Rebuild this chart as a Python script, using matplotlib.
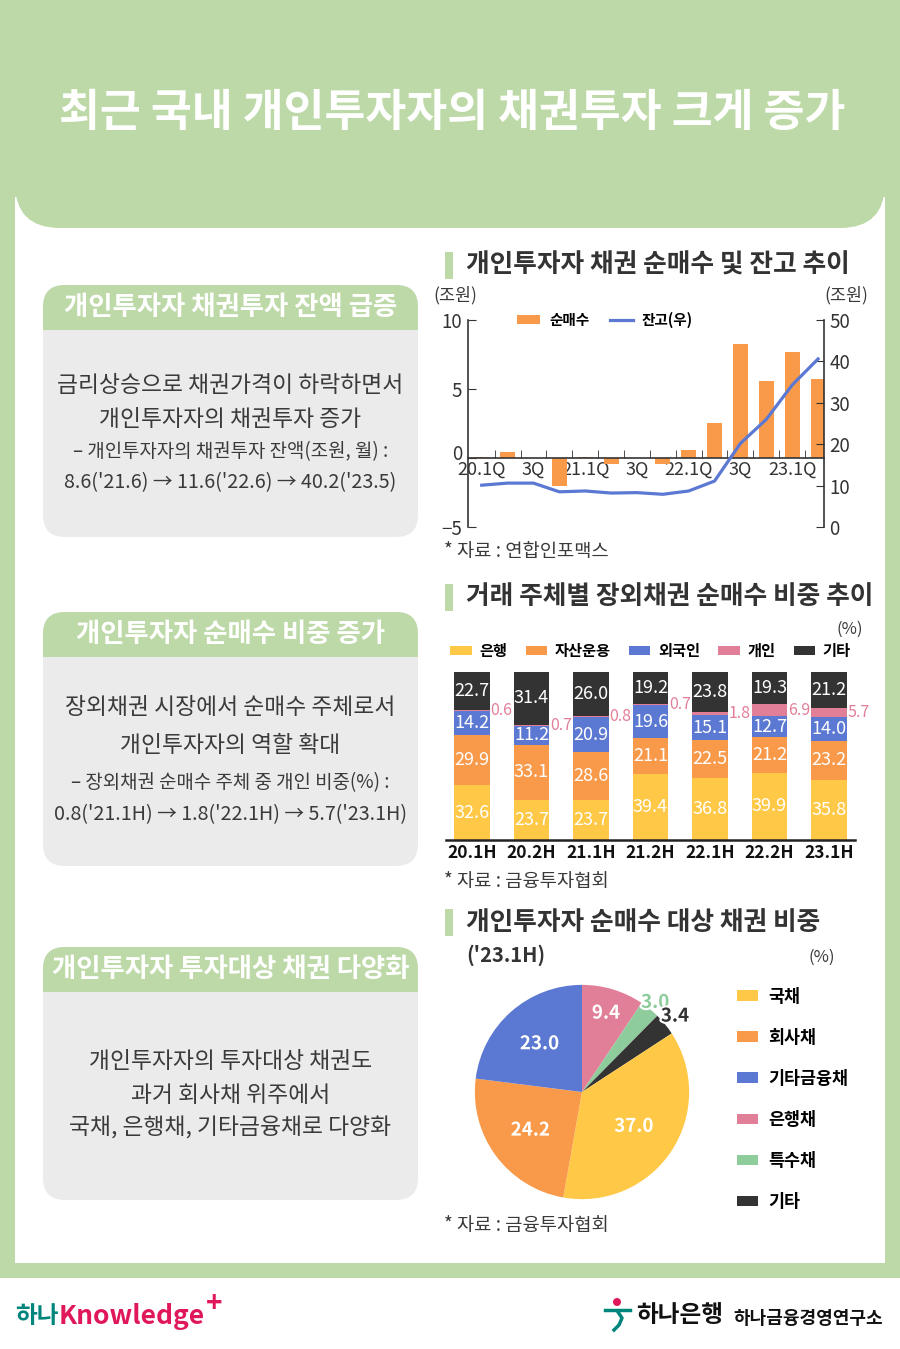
import numpy as np
import matplotlib
matplotlib.use('Agg')
import matplotlib.pyplot as plt
from matplotlib.patches import Rectangle, FancyBboxPatch, Circle
import matplotlib.patheffects as pe
import matplotlib.transforms as mtransforms

plt.rcParams['font.family'] = ['Noto Sans CJK KR', 'DejaVu Sans']

# chart 1 : quarterly net buying (left axis) and balance (right axis), 조원
quarters = ['20.1Q', '20.2Q', '20.3Q', '20.4Q', '21.1Q', '21.2Q', '21.3Q',
            '21.4Q', '22.1Q', '22.2Q', '22.3Q', '22.4Q', '23.1Q', '23.2Q']
quarter_ticks = ['20.1Q', '', '3Q', '', '21.1Q', '', '3Q', '',
                 '22.1Q', '', '3Q', '', '23.1Q', '']
net_buy = [0.1, 0.4, 0.0, -2.0, 0.1, -0.45, 0.0, -0.4, 0.6, 2.5, 8.25, 5.6, 7.7, 5.7]
balance = [10.1, 10.6, 10.6, 8.5, 8.7, 8.2, 8.3, 7.9, 8.7, 11.1, 20.2, 26.0, 34.3, 40.6]

# chart 2 : share of OTC bond net buying by investor (%)
halves = ['20.1H', '20.2H', '21.1H', '21.2H', '22.1H', '22.2H', '23.1H']
bank = [32.6, 23.7, 23.7, 39.4, 36.8, 39.9, 35.8]
asset_mgmt = [29.9, 33.1, 28.6, 21.1, 22.5, 21.2, 23.2]
foreign = [14.2, 11.2, 20.9, 19.6, 15.1, 12.7, 14.0]
retail = [0.6, 0.7, 0.8, 0.7, 1.8, 6.9, 5.7]
other = [22.7, 31.4, 26.0, 19.2, 23.8, 19.3, 21.2]
investor_names = ['은행', '자산운용', '외국인', '개인', '기타']

# chart 3 : bonds bought by retail investors, '23.1H (%)
bond_types = ['국채', '회사채', '기타금융채', '은행채', '특수채', '기타']
bond_share = [37.0, 24.2, 23.0, 9.4, 3.0, 3.4]

W, H = 900, 1349
GREEN = '#bdd9a7'
GRAY = '#ebebeb'
DARK = '#333333'
TEXT = '#3a3a3a'
ORANGE = '#f99a4b'
BLUE = '#5b78d2'
YELLOW = '#ffc947'
PINK = '#e27f98'
MINT = '#8fcc9c'
BLACK = '#333333'

fig = plt.figure(figsize=(9, 13.49), dpi=100)
bg = fig.add_axes([0, 0, 1, 1])
bg.set_xlim(0, W)
bg.set_ylim(H, 0)
bg.axis('off')


def px_axes(x0, y0, x1, y1):
    return fig.add_axes([x0 / W, 1 - y1 / H, (x1 - x0) / W, (y1 - y0) / H])


# frame
bg.add_patch(Rectangle((0, 0), W, 1278, fc=GREEN, ec='none'))
bg.add_patch(Rectangle((15, 197), 870, 1066, fc='white', ec='none'))
bg.add_patch(FancyBboxPatch((15, -80), 870, 308, boxstyle='round,pad=0,rounding_size=45',
                            fc=GREEN, ec='none'))
bg.text(452, 113, '최근 국내 개인투자자의 채권투자 크게 증가', color='white',
        fontsize=32, fontweight='bold', ha='center', va='center')


def info_box(top, head_bottom, bottom, title, lines):
    x0, x1 = 43, 418
    bg.add_patch(FancyBboxPatch((x0, top), x1 - x0, bottom - top,
                                boxstyle='round,pad=0,rounding_size=22', fc=GRAY, ec='none'))
    bg.add_patch(FancyBboxPatch((x0, top), x1 - x0, head_bottom - top + 30,
                                boxstyle='round,pad=0,rounding_size=22', fc=GREEN, ec='none'))
    bg.add_patch(Rectangle((x0, head_bottom), x1 - x0, 40, fc=GRAY, ec='none'))
    bg.text((x0 + x1) / 2, (top + head_bottom) / 2, title, color='white', fontsize=19,
            fontweight='bold', ha='center', va='center')
    for y, txt, size in lines:
        bg.text((x0 + x1) / 2, y, txt, color=TEXT, fontsize=size, ha='center', va='center')


info_box(285, 330, 537, '개인투자자 채권투자 잔액 급증',
         [(386, '금리상승으로 채권가격이 하락하면서', 16.4),
          (419, '개인투자자의 채권투자 증가', 16.4),
          (452, '– 개인투자자의 채권투자 잔액(조원, 월) :', 13.6),
          (483, "8.6('21.6) → 11.6('22.6) → 40.2('23.5)", 14.2)])
info_box(612, 657, 866, '개인투자자 순매수 비중 증가',
         [(708, '장외채권 시장에서 순매수 주체로서', 16.4),
          (745, '개인투자자의 역할 확대', 16.4),
          (783, '– 장외채권 순매수 주체 중 개인 비중(%) :', 13.6),
          (815, "0.8('21.1H) → 1.8('22.1H) → 5.7('23.1H)", 14.2)])
info_box(947, 992, 1200, '개인투자자 투자대상 채권 다양화',
         [(1062, '개인투자자의 투자대상 채권도', 16.4),
          (1095, '과거 회사채 위주에서', 16.4),
          (1128, '국채, 은행채, 기타금융채로 다양화', 16.4)])


def section_title(y, txt):
    bg.add_patch(Rectangle((445, y - 13), 8, 27, fc=GREEN, ec='none'))
    bg.text(466, y, txt, color=DARK, fontsize=18.5, fontweight='bold', ha='left', va='center')


section_title(265, '개인투자자 채권 순매수 및 잔고 추이')
section_title(597, '거래 주체별 장외채권 순매수 비중 추이')
section_title(922, '개인투자자 순매수 대상 채권 비중')
bg.text(466, 955, "('23.1H)", color=DARK, fontsize=14.5, fontweight='bold', ha='left', va='center')

# ---- chart 1
ax1 = px_axes(468, 320, 824, 527)
x = np.arange(len(quarters))
bars = ax1.bar(x, net_buy, width=0.58, color=ORANGE, zorder=2)
ax1.set_xlim(-0.53, 13.23)
ax1.set_ylim(-5, 10)
ax1.set_yticks([-5, 0, 5, 10])
ax1.patch.set_alpha(0)
for s in ['top', 'right']:
    ax1.spines[s].set_visible(False)
ax1.spines['bottom'].set_position(('data', 0))
for s in ['left', 'bottom']:
    ax1.spines[s].set_color(DARK)
    ax1.spines[s].set_linewidth(1.2)
ax1.set_xticks(x)
ax1.set_xticklabels(quarter_ticks)
ax1.set_xticks(x[:-1] + 0.5, minor=True)
ax1.tick_params(axis='x', which='major', length=0, pad=2, labelsize=13, labelcolor=DARK)
ax1.tick_params(axis='x', which='minor', direction='in', length=6, color=DARK)
ax1.tick_params(axis='y', direction='in', length=6, color=DARK, labelsize=13.5,
                labelcolor=DARK, pad=4)
# lift the "0" label a little so it clears the first quarter label
zero_lbl = ax1.get_yticklabels()[1]
zero_lbl.set_transform(zero_lbl.get_transform() +
                       mtransforms.ScaledTranslation(0, 4 / 72, fig.dpi_scale_trans))

ax2 = ax1.twinx()
line, = ax2.plot(x, balance, color=BLUE, lw=2.3, zorder=3)
ax2.set_ylim(0, 50)
ax2.set_yticks(range(0, 51, 10))
for s in ['top', 'left', 'bottom']:
    ax2.spines[s].set_visible(False)
ax2.spines['right'].set_color(DARK)
ax2.spines['right'].set_linewidth(1.2)
ax2.tick_params(axis='y', direction='in', length=6, color=DARK, labelsize=13.5,
                labelcolor=DARK, pad=4)
ax2.legend([bars, line], ['순매수', '잔고(우)'], loc='center', bbox_to_anchor=(0.385, 1.0),
           ncol=2, frameon=False, prop={'weight': 'bold', 'size': 10.5},
           handlelength=1.6, handleheight=0.6, columnspacing=1.4, handletextpad=0.6)
bg.text(455, 295, '(조원)', color=TEXT, fontsize=12.5, ha='center', va='center')
bg.text(846, 295, '(조원)', color=TEXT, fontsize=12.5, ha='center', va='center')
bg.text(444, 552, '* 자료 : 연합인포맥스', color=TEXT, fontsize=13.5, ha='left', va='center')

# ---- chart 2
ax3 = px_axes(446, 672, 855, 840)
pos = np.arange(len(halves))
series = [bank, asset_mgmt, foreign, retail, other]
colors = [YELLOW, ORANGE, BLUE, PINK, BLACK]
bottom = np.zeros(len(halves))
handles = []
for vals, col in zip(series, colors):
    vals = np.array(vals)
    b = ax3.bar(pos, vals, bottom=bottom, width=0.59, color=col, zorder=2)
    handles.append(b)
    for i, v in enumerate(vals):
        if col == PINK:
            ax3.text(pos[i] + 0.31, bottom[i] + v / 2, f'{v:.1f}', color=PINK,
                     fontsize=11.5, ha='left', va='center')
        else:
            ax3.text(pos[i], bottom[i] + v / 2, f'{v:.1f}', color='white',
                     fontsize=13, ha='center', va='center')
    bottom += vals
ax3.set_xlim(-0.437, 6.437)
ax3.set_ylim(0, 100)
ax3.patch.set_alpha(0)
for s in ['top', 'left', 'right']:
    ax3.spines[s].set_visible(False)
ax3.spines['bottom'].set_linewidth(1.8)
ax3.spines['bottom'].set_color('#222222')
ax3.set_yticks([])
ax3.set_xticks(pos)
ax3.set_xticklabels(halves, fontsize=12.5, fontweight='bold', color='#111111')
ax3.tick_params(axis='x', length=0, pad=3)
ax3.legend(handles, investor_names, loc='center', bbox_to_anchor=(0.5, 1.125), ncol=5,
           frameon=False, prop={'weight': 'bold', 'size': 11}, handlelength=1.4,
           handleheight=0.6, columnspacing=1.2, handletextpad=0.5)
bg.text(850, 629, '(%)', color=TEXT, fontsize=12, ha='center', va='center')
bg.text(444, 882, '* 자료 : 금융투자협회', color=TEXT, fontsize=13.5, ha='left', va='center')

# ---- chart 3
ax4 = px_axes(582 - 120, 1092 - 120, 582 + 120, 1092 + 120)
order = [3, 4, 5, 0, 1, 2]
pie_colors = [YELLOW, ORANGE, BLUE, PINK, MINT, BLACK]
wedges, _ = ax4.pie([bond_share[i] for i in order], colors=[pie_colors[i] for i in order],
                    startangle=90, counterclock=False, radius=1,
                    wedgeprops={'linewidth': 0})
ax4.set_xlim(-1.12, 1.12)
ax4.set_ylim(-1.12, 1.12)
ax4.set_aspect('equal')
label_r = {0: 0.58, 1: 0.6, 2: 0.6, 3: 0.77, 4: 1.08, 5: 1.12}
for w, i in zip(wedges, order):
    ang = np.deg2rad((w.theta1 + w.theta2) / 2)
    r = label_r[i]
    if i in (4, 5):
        txt_col, stroke = pie_colors[i], 'white'
    else:
        txt_col, stroke = 'white', pie_colors[i]
    ax4.text(r * np.cos(ang), r * np.sin(ang), f'{bond_share[i]:.1f}', color=txt_col,
             fontsize=13.5, fontweight='bold', ha='center', va='center',
             path_effects=[pe.withStroke(linewidth=3, foreground=stroke)])
ax4.legend([wedges[order.index(i)] for i in range(6)], bond_types, loc='upper left',
           bbox_to_anchor=(728, 979), bbox_transform=bg.transData, frameon=False,
           prop={'weight': 'bold', 'size': 12.5}, handlelength=1.25, handleheight=0.55,
           labelspacing=1.33, handletextpad=0.55, borderpad=0)
bg.text(822, 957, '(%)', color=TEXT, fontsize=12, ha='center', va='center')
bg.text(444, 1226, '* 자료 : 금융투자협회', color=TEXT, fontsize=13.5, ha='left', va='center')

# ---- footer
t = bg.text(15, 1316, '하나', color='#00857c', fontsize=17, fontweight='bold',
            ha='left', va='center')
t2 = bg.annotate('Knowledge', xy=(1, 0.5), xycoords=t, color='#e0185a', fontsize=19,
                 fontweight='bold', ha='left', va='center')
bg.annotate('+', xy=(1.01, 0.95), xycoords=t2, color='#e0185a', fontsize=20,
            fontweight='bold', ha='left', va='center')
bg.add_patch(Circle((617, 1302), 4, fc='#e0185a', ec='none'))
bg.plot([605, 630], [1310, 1310], color='#00857c', lw=2.5)
bg.plot([618, 622, 619, 614], [1312, 1318, 1325, 1330], color='#00857c', lw=2.5)
bg.text(636, 1315, '하나은행', color='#111111', fontsize=17, fontweight='bold',
        ha='left', va='center')
bg.text(733, 1318, '하나금융경영연구소', color='#111111', fontsize=13, fontweight='bold',
        ha='left', va='center')

fig.savefig('out.png', dpi=100)
